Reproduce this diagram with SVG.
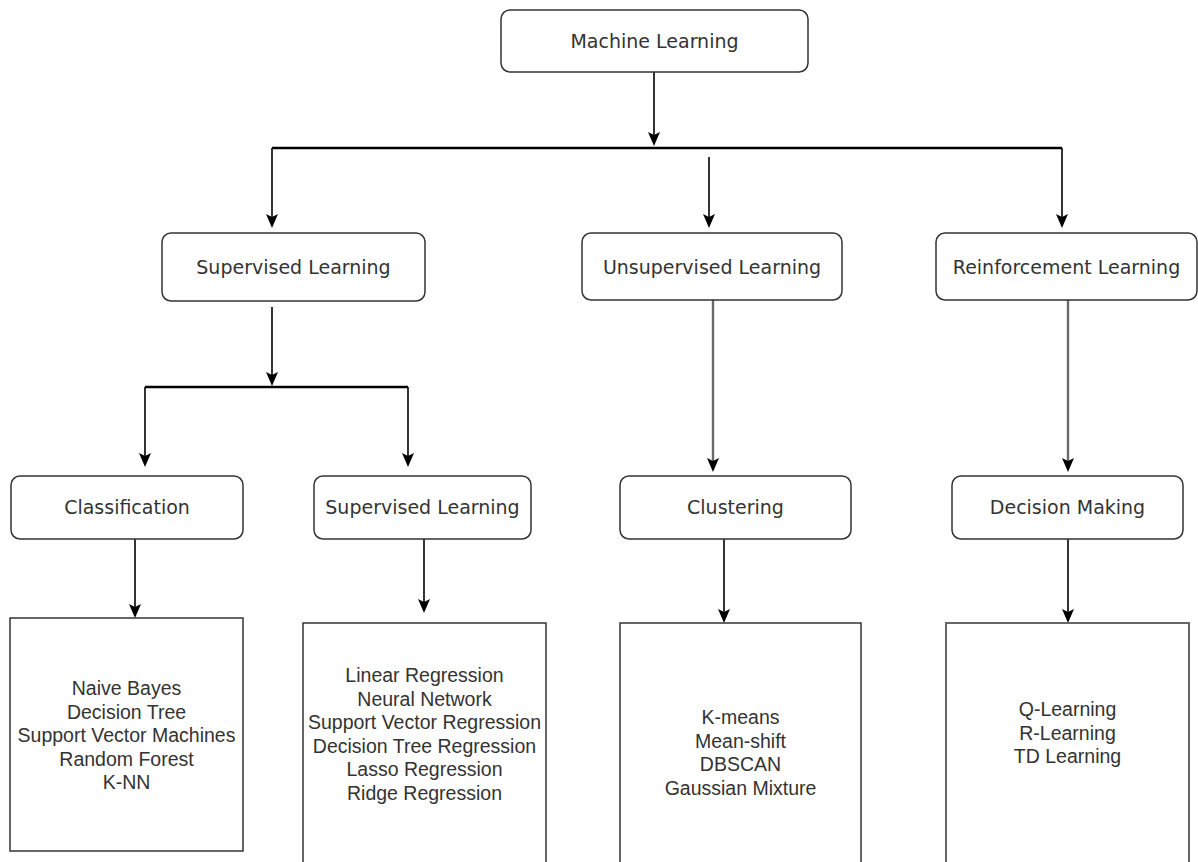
<svg xmlns="http://www.w3.org/2000/svg" width="1198" height="862" viewBox="0 0 1198 862">
<style>
.node{fill:#fff;stroke:#333;stroke-width:1.5}
.lbl{font-family:"DejaVu Sans",Verdana,sans-serif;font-size:19px;fill:#333;text-anchor:middle;dominant-baseline:central}
.lst{font-family:"Liberation Sans",Arial,sans-serif;font-size:19.5px;fill:#333;text-anchor:middle}
.c{stroke:#000;stroke-width:1.6;fill:none}
.bar{stroke:#000;stroke-width:2.6;fill:none}
.g{stroke:#6a6a6a;stroke-width:2.4;fill:none}
.tip{stroke:none;fill:#000}
</style>
<rect width="1198" height="862" fill="#fff"/>
<g id="connectors">
<line class="c" x1="654" y1="72" x2="654" y2="140"/>
<path class="tip" d="M648,132 L654,135 L660,132 L654,146 Z"/>
<line class="bar" x1="272" y1="148" x2="1062" y2="148"/>
<line class="c" x1="272" y1="148" x2="272" y2="220"/>
<path class="tip" d="M266,214 L272,217 L278,214 L272,228 Z"/>
<line class="c" x1="709" y1="157" x2="709" y2="220"/>
<path class="tip" d="M703,214 L709,217 L715,214 L709,228 Z"/>
<line class="c" x1="1062" y1="148" x2="1062" y2="220"/>
<path class="tip" d="M1056,214 L1062,217 L1068,214 L1062,228 Z"/>
<line class="c" x1="272" y1="307" x2="272" y2="380"/>
<path class="tip" d="M266,372 L272,375 L278,372 L272,386 Z"/>
<line class="bar" x1="145" y1="387" x2="408" y2="387"/>
<line class="c" x1="145" y1="387" x2="145" y2="460"/>
<path class="tip" d="M139,453 L145,456 L151,453 L145,467 Z"/>
<line class="c" x1="408" y1="387" x2="408" y2="460"/>
<path class="tip" d="M402,453 L408,456 L414,453 L408,467 Z"/>
<line class="g" x1="713" y1="300" x2="713" y2="464"/>
<path class="tip" d="M707,458 L713,461 L719,458 L713,472 Z"/>
<line class="g" x1="1068" y1="300" x2="1068" y2="464"/>
<path class="tip" d="M1062,458 L1068,461 L1074,458 L1068,472 Z"/>
<line class="c" x1="135" y1="539" x2="135" y2="610"/>
<path class="tip" d="M129,604 L135,607 L141,604 L135,618 Z"/>
<line class="c" x1="424" y1="539" x2="424" y2="606"/>
<path class="tip" d="M418,599 L424,602 L430,599 L424,613 Z"/>
<line class="c" x1="724" y1="539" x2="724" y2="615"/>
<path class="tip" d="M718,609 L724,612 L730,609 L724,623 Z"/>
<line class="c" x1="1068" y1="539" x2="1068" y2="615"/>
<path class="tip" d="M1062,609 L1068,612 L1074,609 L1068,623 Z"/>
</g>
<g id="ml"><rect class="node" x="501" y="10" width="307" height="62" rx="9"/><text class="lbl" x="654.5" y="41">Machine Learning</text></g>
<g id="sup"><rect class="node" x="162" y="233" width="263" height="68" rx="9"/><text class="lbl" x="293.5" y="267">Supervised Learning</text></g>
<g id="unsup"><rect class="node" x="582" y="233" width="260" height="67" rx="9"/><text class="lbl" x="712" y="267">Unsupervised Learning</text></g>
<g id="rein"><rect class="node" x="936" y="233" width="261" height="67" rx="9"/><text class="lbl" x="1066.5" y="267">Reinforcement Learning</text></g>
<g id="cls"><rect class="node" x="11" y="476" width="232" height="63" rx="9"/><text class="lbl" x="127" y="507">Classification</text></g>
<g id="sup2"><rect class="node" x="314" y="476" width="217" height="63" rx="9"/><text class="lbl" x="422.5" y="507">Supervised Learning</text></g>
<g id="clu"><rect class="node" x="620" y="476" width="231" height="63" rx="9"/><text class="lbl" x="735.5" y="507">Clustering</text></g>
<g id="dm"><rect class="node" x="952" y="476" width="231" height="63" rx="9"/><text class="lbl" x="1067.5" y="507">Decision Making</text></g>
<g id="clsList"><rect class="node" x="10" y="618" width="233" height="233"/>
<text class="lst" x="126.5"><tspan x="126.5" y="695">Naive Bayes</tspan><tspan x="126.5" y="718.5">Decision Tree</tspan><tspan x="126.5" y="742">Support Vector Machines</tspan><tspan x="126.5" y="765.5">Random Forest</tspan><tspan x="126.5" y="789">K-NN</tspan></text></g>
<g id="regList"><rect class="node" x="303" y="623" width="243" height="245"/>
<text class="lst" x="424.5"><tspan x="424.5" y="682">Linear Regression</tspan><tspan x="424.5" y="705.5">Neural Network</tspan><tspan x="424.5" y="729">Support Vector Regression</tspan><tspan x="424.5" y="752.5">Decision Tree Regression</tspan><tspan x="424.5" y="776">Lasso Regression</tspan><tspan x="424.5" y="799.5">Ridge Regression</tspan></text></g>
<g id="cluList"><rect class="node" x="620" y="623" width="241" height="245"/>
<text class="lst" x="740.5"><tspan x="740.5" y="724">K-means</tspan><tspan x="740.5" y="747.5">Mean-shift</tspan><tspan x="740.5" y="771">DBSCAN</tspan><tspan x="740.5" y="794.5">Gaussian Mixture</tspan></text></g>
<g id="rlList"><rect class="node" x="946" y="623" width="243" height="245" style="stroke:#666;stroke-width:2"/>
<text class="lst" x="1067.5"><tspan x="1067.5" y="716">Q-Learning</tspan><tspan x="1067.5" y="739.5">R-Learning</tspan><tspan x="1067.5" y="763">TD Learning</tspan></text></g>
</svg>
